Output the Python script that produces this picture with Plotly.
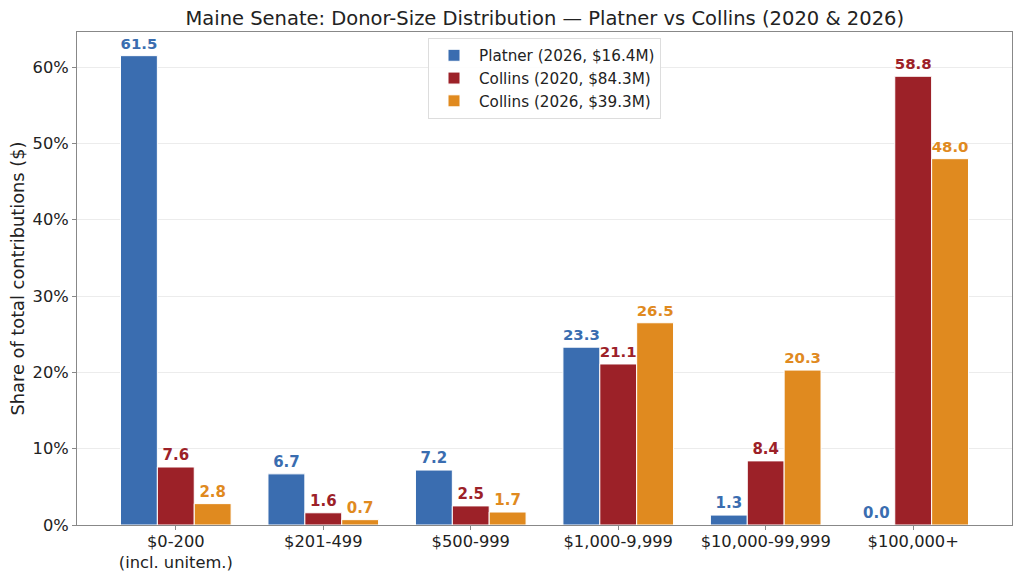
import plotly.graph_objects as go

categories = ["$0-200<br>(incl. unitem.)", "$201-499", "$500-999", "$1,000-9,999", "$10,000-99,999", "$100,000+"]
series_names = ["Platner (2026, $16.4M)", "Collins (2020, $84.3M)", "Collins (2026, $39.3M)"]
platner_2026 = [61.5, 6.7, 7.2, 23.3, 1.3, 0.0]
collins_2020 = [7.6, 1.6, 2.5, 21.1, 8.4, 58.8]
collins_2026 = [2.8, 0.7, 1.7, 26.5, 20.3, 48.0]
colors = ["#3a6db0", "#9c2128", "#e08a1f"]
y_ticks = [0, 10, 20, 30, 40, 50, 60]

FONT = "DejaVu Sans"
x_idx = list(range(len(categories)))
bw = 0.25

fig = go.Figure()
for i, (name, vals, col) in enumerate(zip(series_names, [platner_2026, collins_2020, collins_2026], colors)):
    fig.add_trace(go.Bar(
        x=x_idx, y=vals, name=name, width=bw, offset=-1.5 * bw + i * bw,
        marker=dict(color=col, line=dict(color="white", width=1)),
        text=[f"{v:.1f}" for v in vals], textposition="outside",
        textfont=dict(family=FONT, size=15, color=col, weight="bold"),
        cliponaxis=False,
    ))

fig.update_layout(
    width=1024, height=581,
    margin=dict(l=77, r=12, t=32, b=56),
    paper_bgcolor="white", plot_bgcolor="white",
    barmode="overlay",
    font=dict(family=FONT, size=16, color="#222"),
    title=dict(text="Maine Senate: Donor-Size Distribution — Platner vs Collins (2020 & 2026)",
               x=0.532, xanchor="center", y=0.968, yanchor="middle",
               font=dict(family=FONT, size=19.5, color="#222")),
    legend=dict(x=0.5, xanchor="center", y=0.988, yanchor="top",
                bgcolor="rgba(255,255,255,0.9)", bordercolor="#dddddd", borderwidth=1,
                font=dict(family=FONT, size=15.2, color="#222"), itemwidth=40, tracegroupgap=0),
    showlegend=True,
)
fig.update_xaxes(
    range=[-0.67, 5.67], tickvals=x_idx, ticktext=categories, automargin=False,
    showline=True, linecolor="#888", linewidth=1, mirror=True,
    ticks="outside", ticklen=4, tickcolor="#888", showgrid=False, zeroline=False,
    tickfont=dict(family=FONT, size=16.3, color="#222"), ticklabelstandoff=-3,
)
fig.update_yaxes(
    range=[0, 64.6], tickvals=y_ticks, ticktext=[f"{t}%" for t in y_ticks], automargin=False,
    showline=True, linecolor="#888", linewidth=1, mirror=True,
    ticks="outside", ticklen=4, tickcolor="#888",
    showgrid=True, gridcolor="#ececec", zeroline=False,
    tickfont=dict(family=FONT, size=16.3, color="#222"),
    title=dict(text="Share of total contributions ($)", font=dict(family=FONT, size=17.8, color="#222"), standoff=3),
)

fig.write_html("out.html")
